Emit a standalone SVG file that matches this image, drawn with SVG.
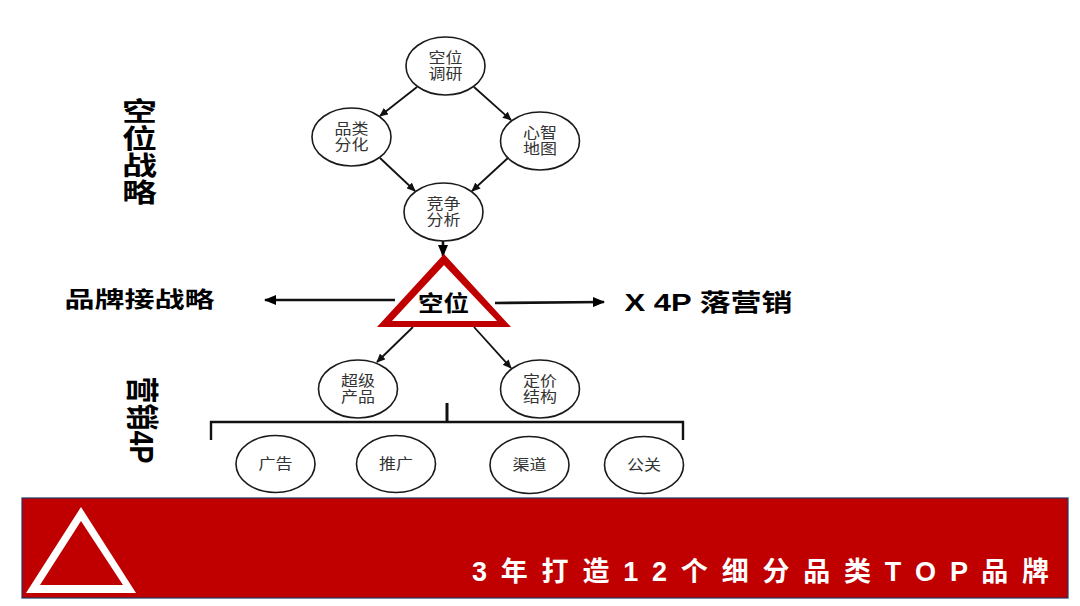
<svg xmlns="http://www.w3.org/2000/svg" width="1080" height="606" viewBox="0 0 1080 606">
<style>
text{font-family:"Liberation Sans","Noto Sans CJK SC",sans-serif;text-anchor:middle}
.n ellipse{fill:#fff;stroke:#1a1a1a;stroke-width:1.6}
.n text{font-size:15px;fill:#333;font-family:"Noto Sans CJK SC",sans-serif}
.h{font-weight:700;fill:#000}
.c line{stroke:#111;stroke-width:1.8;marker-end:url(#a)}
.c line.t{stroke-width:2.6;marker-end:url(#b)}
</style>
<defs>
<marker id="a" markerUnits="userSpaceOnUse" markerWidth="9" markerHeight="8" refX="8" refY="4" orient="auto"><path d="M0 0L9 4L0 8Z" fill="#111"/></marker>
<marker id="b" markerUnits="userSpaceOnUse" markerWidth="12" markerHeight="10" refX="11" refY="5" orient="auto"><path d="M0 0L12 5L0 10Z" fill="#000"/></marker>
</defs>
<rect width="1080" height="606" fill="#fff"/>
<g id="banner">
<rect x="22" y="498" width="1046" height="100" fill="#c00000" stroke="#1f3864" stroke-width="1.2"/>
<path d="M81 507L136 593H26ZM81 521L40 585H123Z" fill="#fff" fill-rule="evenodd"/>
<text x="472" y="581" font-size="27" font-weight="700" fill="#fff" textLength="577" lengthAdjust="spacing" style="text-anchor:start">3 年 打 造 1 2 个 细 分 品 类 T O P 品 牌</text>
</g>
<g class="c" id="connectors">
<line x1="417" y1="87" x2="380" y2="116"/>
<line x1="474" y1="87" x2="511" y2="120"/>
<line x1="380" y1="158" x2="415" y2="191"/>
<line x1="509" y1="157" x2="472" y2="191"/>
<line class="t" x1="443" y1="241" x2="443" y2="256"/>
<line class="t" x1="395" y1="300" x2="265" y2="300"/>
<line class="t" x1="495" y1="303" x2="604" y2="302"/>
<line x1="413" y1="327" x2="377" y2="362"/>
<line x1="474" y1="327" x2="511" y2="368"/>
<path d="M211 440V422H683V440" fill="none" stroke="#111" stroke-width="2.4"/>
<path d="M447 403V422" fill="none" stroke="#111" stroke-width="3"/>
</g>
<g class="n" id="n1"><ellipse cx="445.500" cy="66" rx="39.500" ry="29"/><text><tspan x="445.500" y="63" textLength="34" lengthAdjust="spacingAndGlyphs">空位</tspan><tspan x="445.500" y="79" textLength="34" lengthAdjust="spacingAndGlyphs">调研</tspan></text></g>
<g class="n" id="n2"><ellipse cx="351.500" cy="137" rx="39.500" ry="29"/><text><tspan x="351.500" y="134" textLength="34" lengthAdjust="spacingAndGlyphs">品类</tspan><tspan x="351.500" y="150" textLength="34" lengthAdjust="spacingAndGlyphs">分化</tspan></text></g>
<g class="n" id="n3"><ellipse cx="540" cy="141" rx="39.500" ry="29"/><text><tspan x="540" y="138" textLength="34" lengthAdjust="spacingAndGlyphs">心智</tspan><tspan x="540" y="154" textLength="34" lengthAdjust="spacingAndGlyphs">地图</tspan></text></g>
<g class="n" id="n4"><ellipse cx="443.500" cy="212" rx="39.500" ry="29"/><text><tspan x="443.500" y="209" textLength="34" lengthAdjust="spacingAndGlyphs">竞争</tspan><tspan x="443.500" y="225" textLength="34" lengthAdjust="spacingAndGlyphs">分析</tspan></text></g>
<g class="n" id="n5"><ellipse cx="358" cy="389" rx="39.500" ry="29"/><text><tspan x="358" y="386" textLength="34" lengthAdjust="spacingAndGlyphs">超级</tspan><tspan x="358" y="402" textLength="34" lengthAdjust="spacingAndGlyphs">产品</tspan></text></g>
<g class="n" id="n6"><ellipse cx="540" cy="389" rx="39.500" ry="29"/><text><tspan x="540" y="386" textLength="34" lengthAdjust="spacingAndGlyphs">定价</tspan><tspan x="540" y="402" textLength="34" lengthAdjust="spacingAndGlyphs">结构</tspan></text></g>
<g class="n" id="n7"><ellipse cx="275.500" cy="464" rx="39.500" ry="28.500"/><text x="275.500" y="469" textLength="34" lengthAdjust="spacingAndGlyphs">广告</text></g>
<g class="n" id="n8"><ellipse cx="396" cy="464" rx="39.500" ry="28.500"/><text x="396" y="469" textLength="34" lengthAdjust="spacingAndGlyphs">推广</text></g>
<g class="n" id="n9"><ellipse cx="529.500" cy="465" rx="39.500" ry="28.500"/><text x="529.500" y="470" textLength="34" lengthAdjust="spacingAndGlyphs">渠道</text></g>
<g class="n" id="n10"><ellipse cx="644" cy="465" rx="39.500" ry="28.500"/><text x="644" y="470" textLength="34" lengthAdjust="spacingAndGlyphs">公关</text></g>
<g id="core">
<path d="M444 254L511 327H377ZM444 265L392 321H497Z" fill="#c00000" fill-rule="evenodd"/>
<text class="h" x="443.500" y="311" font-size="22" textLength="51" lengthAdjust="spacingAndGlyphs" style="font-family:'Noto Sans CJK SC',sans-serif">空位</text>
</g>
<g id="labels">
<text class="h" font-size="26" style="font-family:'Noto Sans CJK SC',sans-serif"><tspan x="139.500" y="121" textLength="35" lengthAdjust="spacingAndGlyphs">空</tspan><tspan x="139.500" y="148" textLength="35" lengthAdjust="spacingAndGlyphs">位</tspan><tspan x="139.500" y="175" textLength="35" lengthAdjust="spacingAndGlyphs">战</tspan><tspan x="139.500" y="202" textLength="35" lengthAdjust="spacingAndGlyphs">略</tspan></text>
<text class="h" x="139.500" y="307" font-size="22" textLength="150" lengthAdjust="spacingAndGlyphs" style="font-family:'Noto Sans CJK SC',sans-serif">品牌接战略</text>
<text class="h" x="708.500" y="311" font-size="24" textLength="168" lengthAdjust="spacingAndGlyphs">X 4P 落营销</text>
<text class="h" transform="translate(130 420) rotate(90)" font-size="33" textLength="87" lengthAdjust="spacingAndGlyphs">营销4P</text>
</g>
</svg>
